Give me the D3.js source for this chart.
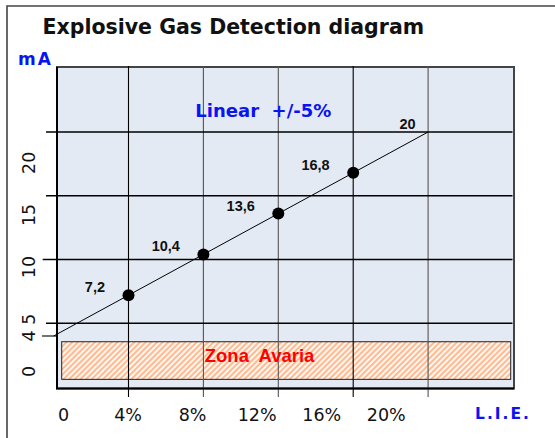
<!DOCTYPE html>
<html>
<head>
<meta charset="utf-8">
<script src="https://cdn.jsdelivr.net/npm/d3@7"></script>
<style>
	body { margin: 0; background: #fff; }
	svg { display: block; }
</style>
</head>
<body>
<div id="chart"></div>
<script>
// chart values
var titleText = "Explosive Gas Detection diagram";
var pctTicks = [0, 4, 8, 12, 16, 20];
var pctTickLabels = ["0", "4%", "8%", "12%", "16%", "20%"];
var pctGrid = [4, 8, 12, 16, 20];
var pctGridDark = [4, 16];
var mATicks = [0, 4, 5, 10, 15, 20];
var mATickLabels = ["0", "4", "5", "10", "15", "20"];
var mAGrid = [5, 10, 15, 20];
var linePct = [0, 20];
var lineMA = [4, 20];
var pointPct = [4, 8, 12, 16];
var pointMA = [7.2, 10.4, 13.6, 16.8];
var valuePct = [4, 8, 12, 16, 20];
var valueMA = [7.2, 10.4, 13.6, 16.8, 20];
var valueLabels = ["7,2", "10,4", "13,6", "16,8", "20"];
var faultZone = [0.6, 3.55]; // mA
var faultText = "Zona  Avaria";
var linearText = "Linear  +/-5%";

var W = 555, H = 438;
var frame = {left: 57, right: 514, top: 67, bottom: 388.5};

// scales
var x = d3.scaleLinear().domain([0, 20]).range([53.6, 428.1]);
var y = d3.scaleLinear().domain([0, 20]).range([387, 132]);
// tick labels of the original sit a bit off the grid lines
var xLab = d3.scaleLinear().domain([0, 20]).range([63.5, 386.3]);
var yLab = d3.scaleLinear().domain([0, 20]).range([371.4, 162.8]);

var svg = d3.select("#chart").append("svg")
	.attr("width", W)
	.attr("height", H);

var sans = "'DejaVu Sans', Verdana, sans-serif";
var arial = "'Liberation Sans', Arial, sans-serif";

// hatch for the fault zone
var defs = svg.append("defs");
var pat = defs.append("pattern")
	.attr("id", "hatch")
	.attr("patternUnits", "userSpaceOnUse")
	.attr("width", 4)
	.attr("height", 4)
	.attr("patternTransform", "rotate(45)");
pat.append("rect")
	.attr("width", 4).attr("height", 4)
	.attr("fill", "#fff6ef");
pat.append("line")
	.attr("x1", 1).attr("y1", 0).attr("x2", 1).attr("y2", 4)
	.attr("stroke", "#ffab7a")
	.attr("stroke-width", 1.6);

// outer frame (top and left only)
svg.append("path")
	.attr("d", "M7," + H + "V6H" + W)
	.attr("fill", "none")
	.attr("stroke", "#444")
	.attr("stroke-width", 1.6);

// title
svg.append("text")
	.attr("x", 42.5).attr("y", 34)
	.attr("font-family", sans)
	.attr("font-weight", "bold")
	.attr("font-size", 20.5)
	.attr("fill", "#111")
	.text(titleText);

// plot background
svg.append("rect")
	.attr("x", frame.left).attr("y", frame.top)
	.attr("width", frame.right - frame.left)
	.attr("height", frame.bottom - frame.top)
	.attr("fill", "#e4eaf3")
	.attr("stroke", "#444")
	.attr("stroke-width", 2);

// fault zone
svg.append("rect")
	.attr("x", frame.left + 4.7)
	.attr("y", y(faultZone[1]))
	.attr("width", frame.right - 3.3 - frame.left - 4.7)
	.attr("height", y(faultZone[0]) - y(faultZone[1]))
	.attr("fill", "url(#hatch)")
	.attr("stroke", "#222")
	.attr("stroke-width", 1);

// vertical grid
svg.append("g").selectAll("line")
	.data(pctGrid)
	.join("line")
	.attr("x1", d => x(d)).attr("x2", d => x(d))
	.attr("y1", frame.top - 1).attr("y2", frame.bottom + 8.5)
	.attr("stroke", d => pctGridDark.indexOf(d) >= 0 ? "#000" : "#555")
	.attr("stroke-width", 1.1);

// horizontal grid
svg.append("g").selectAll("line")
	.data(mAGrid)
	.join("line")
	.attr("x1", d => d === 10 ? 42.7 : 46).attr("x2", frame.right - 1.5)
	.attr("y1", d => y(d)).attr("y2", d => y(d))
	.attr("stroke", "#000")
	.attr("stroke-width", 1.3);

// 4 mA tick
svg.append("line")
	.attr("x1", 42).attr("x2", frame.left)
	.attr("y1", y(4)).attr("y2", y(4))
	.attr("stroke", "#000")
	.attr("stroke-width", 1.1);

// left and bottom axis lines
svg.append("path")
	.attr("d", "M" + frame.left + "," + frame.top + "V" + frame.bottom + "H" + frame.right)
	.attr("fill", "none")
	.attr("stroke", "#000")
	.attr("stroke-width", 2);

// transfer line
var line = d3.line()
	.x(d => x(d[0]))
	.y(d => y(d[1]));
svg.append("path")
	.datum(d3.zip(linePct, lineMA))
	.attr("d", line)
	.attr("fill", "none")
	.attr("stroke", "#000")
	.attr("stroke-width", 1);

// points
svg.append("g").selectAll("circle")
	.data(d3.zip(pointPct, pointMA))
	.join("circle")
	.attr("cx", d => x(d[0]))
	.attr("cy", d => y(d[1]))
	.attr("r", 6)
	.attr("fill", "#000");

// value labels
svg.append("g").selectAll("text")
	.data(d3.zip(valuePct, valueMA, valueLabels))
	.join("text")
	.attr("x", d => x(d[0]) - (d[0] === 20 ? 12.5 : 23.5))
	.attr("y", d => y(d[1]) - 3)
	.attr("text-anchor", "end")
	.attr("font-family", arial)
	.attr("font-weight", "bold")
	.attr("font-size", 14.5)
	.attr("fill", "#111")
	.text(d => d[2]);

// annotations
svg.append("text")
	.attr("x", x(11.2)).attr("y", y(21.2))
	.attr("text-anchor", "middle")
	.attr("font-family", sans)
	.attr("font-weight", "bold")
	.attr("font-size", 18)
	.attr("fill", "#0a14f0")
	.style("white-space", "pre")
	.text(linearText);

svg.append("text")
	.attr("x", x(11)).attr("y", y(2))
	.attr("text-anchor", "middle")
	.attr("font-family", arial)
	.attr("font-weight", "bold")
	.attr("font-size", 18.5)
	.attr("fill", "#ff0000")
	.style("white-space", "pre")
	.text(faultText);

// x tick labels
svg.append("g").selectAll("text")
	.data(d3.zip(pctTicks, pctTickLabels))
	.join("text")
	.attr("x", d => xLab(d[0]))
	.attr("y", 420.7)
	.attr("text-anchor", "middle")
	.attr("font-family", sans)
	.attr("font-size", 17.5)
	.attr("fill", "#111")
	.text(d => d[1]);

// y tick labels (rotated)
svg.append("g").selectAll("text")
	.data(d3.zip(mATicks, mATickLabels))
	.join("text")
	.attr("transform", d => "translate(35," + (d[0] === 4 ? y(4) : yLab(d[0])) + ") rotate(-90)")
	.attr("text-anchor", "middle")
	.attr("font-family", sans)
	.attr("font-size", 17.5)
	.attr("fill", "#111")
	.text(d => d[1]);

// unit labels
svg.append("text")
	.attr("x", 18).attr("y", 65)
	.attr("font-family", sans)
	.attr("font-weight", "bold")
	.attr("font-size", 17)
	.attr("letter-spacing", 2)
	.attr("fill", "#0a14f0")
	.text("mA");

svg.append("text")
	.attr("x", 475).attr("y", 419)
	.attr("font-family", sans)
	.attr("font-weight", "bold")
	.attr("font-size", 15.5)
	.attr("letter-spacing", 2)
	.attr("fill", "#0a14f0")
	.text("L.I.E.");
</script>
</body>
</html>
